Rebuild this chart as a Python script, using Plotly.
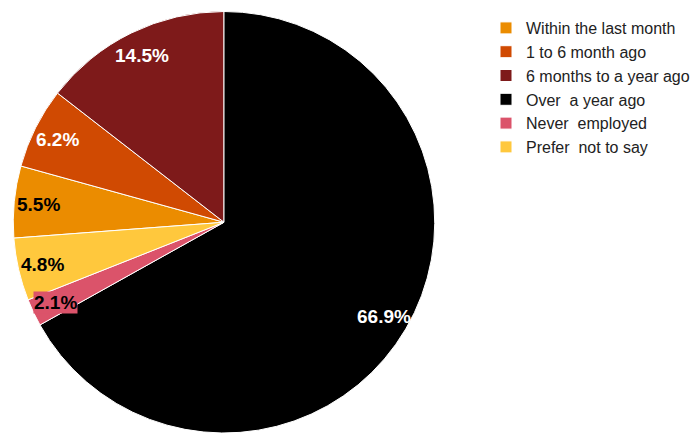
import math
import plotly.graph_objects as go

labels = ["Within the last month", "1 to 6 month ago", "6 months to a year ago",
          "Over  a year ago", "Never  employed", "Prefer  not to say"]
values = [5.5, 6.2, 14.5, 66.9, 2.1, 4.8]
colors = ["#EB8C00", "#D04A02", "#7E1A1A", "#000000", "#DB536A", "#FFC83D"]
text_colors = ["#000000", "#FFFFFF", "#FFFFFF", "#FFFFFF", "#000000", "#000000"]

W, H = 691, 433
cx_px, cy_px, R = 224, 222.5, 211
total = sum(values)
# first slice (Within the last month) begins after Over/Never/Prefer, clockwise from 12 o'clock
rotation = 360 * sum(values[3:]) / total

fig = go.Figure(go.Pie(
    labels=labels, values=values, sort=False, direction="clockwise",
    rotation=rotation,
    marker=dict(colors=colors, line=dict(color="#FFFFFF", width=1)),
    textinfo="none", hoverinfo="label+percent",
    domain=dict(x=[(cx_px - R) / W, (cx_px + R) / W], y=[0, (H - (cy_px - R)) / H]),
))

annotations = []
cum = rotation
for v, tc, col in zip(values, text_colors, colors):
    mid = math.radians(cum + 360 * v / total / 2)
    cum += 360 * v / total
    r = 186
    x = (cx_px + r * math.sin(mid)) / W
    y = 1 - (cy_px - r * math.cos(mid)) / H
    pct = f"{100 * v / total:.1f}%"
    annotations.append(dict(
        x=x, y=y, xref="paper", yref="paper", showarrow=False,
        text=f"<b>{pct}</b>", xanchor="center", yanchor="middle",
        font=dict(family="Arial, Liberation Sans, sans-serif", size=19, color=tc),
        bgcolor=col if v < 3 else None, borderpad=0,
    ))

fig.update_layout(
    width=W, height=H, margin=dict(l=0, r=0, t=0, b=0, autoexpand=False),
    paper_bgcolor="#FFFFFF", plot_bgcolor="#FFFFFF",
    showlegend=True,
    legend=dict(x=486 / W, y=1 - 11 / H, xanchor="left", yanchor="top",
                font=dict(family="Arial, Liberation Sans, sans-serif", size=16, color="#222222"),
                bgcolor="rgba(0,0,0,0)", traceorder="normal"),
    annotations=annotations,
)

fig.write_html("out.html", config={"displayModeBar": False},
               post_script="document.body.style.margin='0';")
